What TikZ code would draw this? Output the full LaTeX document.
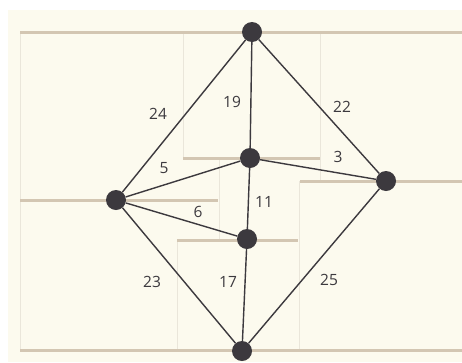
\documentclass[tikz,border=0pt]{standalone}
\usepackage{fontspec}
\setsansfont{Open Sans}
\usepackage{xcolor}
\usepackage{tikz}
\usetikzlibrary{positioning}

\definecolor{paper}{HTML}{FCFAEE}
\definecolor{shelf}{HTML}{D3C6B2}
\definecolor{faint}{HTML}{EAE6DA}
\definecolor{ink}{HTML}{3C393E}

\begin{document}
\begin{tikzpicture}[
  x=1pt, y=-1pt,
  vtx/.style={circle, fill=ink, draw=none, minimum size=20pt, inner sep=0pt},
  edge/.style={draw=ink, line width=1.4pt},
  wt/.style={font=\fontsize{15.5}{17}\sffamily, text=ink, inner sep=1pt},
  shelfline/.style={draw=shelf, line width=3pt},
  wall/.style={draw=faint, line width=1pt}
]
  \useasboundingbox (0,0) rectangle (462,362);
  \fill[white] (0,0) rectangle (462,362);
  \fill[paper] (8,10) rectangle (462,362);

  % Background walls
  \draw[wall] (20,32) -- (20,350);
  \draw[wall] (183,32) -- (183,158);
  \draw[wall] (320,32) -- (320,181);
  \draw[wall] (219,158) -- (219,240);
  \draw[wall] (177,240) -- (177,350);
  \draw[wall] (299,181) -- (299,350);

  % Shelves
  \draw[shelfline] (20,32) -- (462,32);
  \draw[shelfline] (183,158) -- (320,158);
  \draw[shelfline] (300,181) -- (462,181);
  \draw[shelfline] (20,200) -- (218,200);
  \draw[shelfline] (177,240) -- (298,240);
  \draw[shelfline] (20,350) -- (462,350);

  % Vertices
  \node[vtx] (top)    at (252,32)  {};
  \node[vtx] (centre) at (250,158) {};
  \node[vtx] (right)  at (386,181) {};
  \node[vtx] (left)   at (116,200) {};
  \node[vtx] (mid)    at (247,239) {};
  \node[vtx] (bottom) at (242,351) {};

  % Edges
  \draw[edge] (top)    -- (left);
  \draw[edge] (top)    -- (centre);
  \draw[edge] (top)    -- (right);
  \draw[edge] (left)   -- (centre);
  \draw[edge] (centre) -- (right);
  \draw[edge] (left)   -- (mid);
  \draw[edge] (centre) -- (mid);
  \draw[edge] (left)   -- (bottom);
  \draw[edge] (mid)    -- (bottom);
  \draw[edge] (right)  -- (bottom);

  % Weights
  \node[wt] (w24) at (158,114) {24};
  \node[wt] (w19) at (232,102) {19};
  \node[wt] (w22) at (342,107) {22};
  \node[wt] (w5)  at (164,168) {5};
  \node[wt] (w3)  at (338,157) {3};
  \node[wt] (w6)  at (198,212) {6};
  \node[wt] (w11) at (264,202) {11};
  \node[wt] (w23) at (152,282) {23};
  \node[wt] (w17) at (228,282) {17};
  \node[wt] (w25) at (329,280) {25};
\end{tikzpicture}
\end{document}
